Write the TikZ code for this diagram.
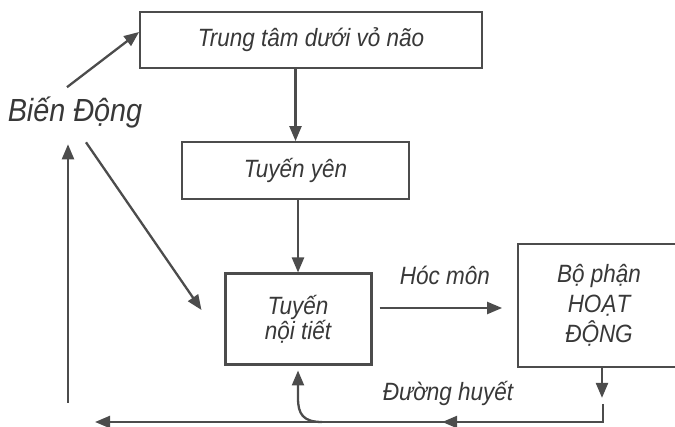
\documentclass[tikz,border=0pt]{standalone}
\usepackage{fontspec}
\setmainfont[FakeStretch = 0.9]{Liberation Sans}
\usepackage{tikz}
\usetikzlibrary{arrows.meta}
\usetikzlibrary{decorations.markings}
\tikzset{arr/.style = {-{Triangle[length=15pt,width=12pt]}, line width=2.3pt},
         box/.style = {draw, line width=1.8pt, align=center},
         midarr/.style = {decoration={markings,
                                      mark=at position #1 with {\arrow{Triangle[length=15pt,width=12pt]}}},
                          postaction={decorate}}}
\definecolor{mgrey}{rgb}{0.30, 0.30, 0.30}
\definecolor{tgrey}{rgb}{0.22, 0.22, 0.22}

\begin{document}
\begin{tikzpicture}[x = 1pt, y = -1pt, mgrey,
    every node/.style = {inner sep = 0pt, text = tgrey,
                         font = \fontsize{25}{24}\selectfont\itshape}]
      \useasboundingbox (0, 0) rectangle (675, 427);
      \node [box, minimum width = 342pt, minimum height = 56pt] (top) at (311, 40) {Trung tâm dưới vỏ não};
      \node [box, minimum width = 227pt, minimum height = 57pt] (yen) at (295.5, 170.5) {Tuyến yên};
      \node [box, line width = 3pt, minimum width = 146pt, minimum height = 91pt] (noitiet) at (298, 319.5) {Tuyến\\nội tiết};
      \node [box, minimum width = 162pt, minimum height = 123pt, font = \fontsize{25}{30}\selectfont\itshape] (bophan) at (599, 305.5) {Bộ phận\\HOẠT\\ĐỘNG};
      \node [font = \fontsize{32}{32}\selectfont\itshape] (bien) at (75, 113) {Biến Động};
      \node (hoc) at (445, 275) {Hóc môn};
      \node (duong) at (448, 393) {Đường huyết};
      \coordinate (leftfoot) at (68, 403);
      \coordinate (retup) at (603, 404);
      \coordinate (retend) at (95, 422);
      \coordinate (branch) at (322, 422);
      \draw [arr] (yen.north |- top.south) -- (yen.north);
      \draw [arr] (noitiet.north |- yen.south) -- (noitiet.north);
      \draw [arr] ([xshift = -8pt, yshift = 10pt]bien.north) -- ([yshift = 8pt]top.west);
      \draw [arr] ([xshift = 11pt, yshift = -13.5pt]bien.south) -- ([xshift = -22pt, yshift = 9.5pt]noitiet.west);
      \draw [arr] ([xshift = 7pt, yshift = 11.5pt]noitiet.east) -- ([xshift = -15pt, yshift = -2.5pt]bophan.west);
      \draw [arr] ([xshift = 3pt]bophan.south) -- ++(0, 30);
      \draw [arr, midarr = 0.34] (retup) |- (retend);
      \draw [arr] (branch) .. controls (303, 422) and (298, 414) .. (298, 398) -- ([yshift = -4pt]noitiet.south);
      \draw [arr] (leftfoot) -- ([xshift = -7pt, yshift = -15.5pt]bien.south);
    \end{tikzpicture}
\end{document}
